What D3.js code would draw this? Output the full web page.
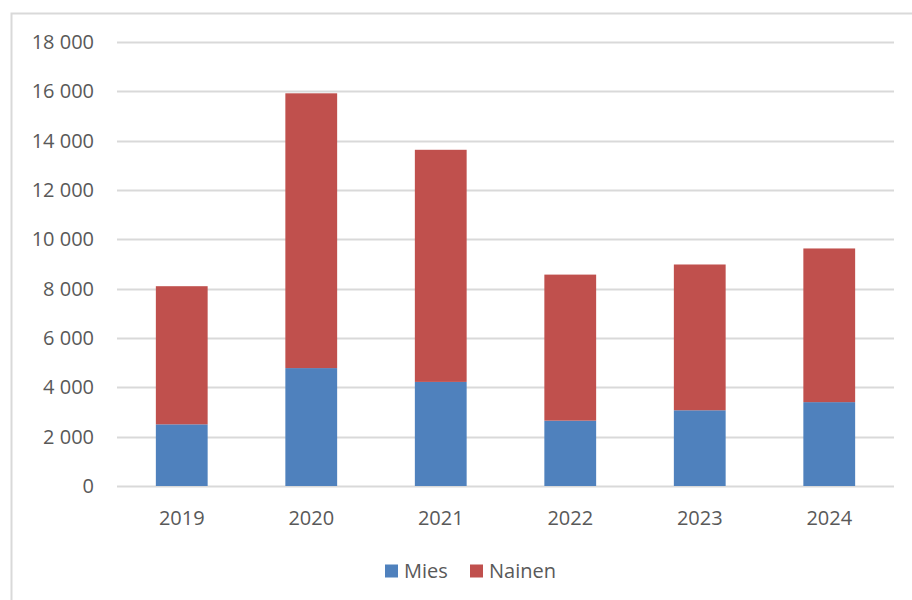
<!DOCTYPE html>
<html>
<head>
<meta charset="utf-8">
<script src="https://cdn.jsdelivr.net/npm/d3@7"></script>
<style>
    body { margin: 0; background: #fff; }
    text { font-family: "Open Sans", sans-serif; fill: #595959; }
</style>
</head>
<body>
<div id="chart"></div>
<script>
let years = ["2019", "2020", "2021", "2022", "2023", "2024"];
let mies = [2500, 4780, 4220, 2650, 3070, 3400];
let nainen = [5600, 11140, 9410, 5920, 5910, 6230];
let seriesNames = ["Mies", "Nainen"];
let seriesColors = ["#4f81bd", "#c0504d"];
let yTicks = [0, 2000, 4000, 6000, 8000, 10000, 12000, 14000, 16000, 18000];

let width = 912
let height = 600

let rows = years.map((y, i) => ({year: y, Mies: mies[i], Nainen: nainen[i]}));

let svg = d3.select("#chart").append("svg")
    .attr("width", width)
    .attr("height", height);

// chart frame (runs off the right and bottom edges like the reference)
svg.append("rect")
    .attr("x", 11.5)
    .attr("y", 13.5)
    .attr("width", 920)
    .attr("height", 620)
    .attr("fill", "none")
    .attr("stroke", "#d9d9d9")
    .attr("stroke-width", 2);

let x = d3.scaleBand()
    .domain(years)
    .range([117, 894])
    .paddingInner(0.6)
    .paddingOuter(0.3);

let y = d3.scaleLinear()
    .domain([0, 18000])
    .range([486, 42]);

let fmt = d3.formatLocale({decimal: ",", thousands: " ", grouping: [3], currency: ["", " €"]}).format(",");

// gridlines
svg.append("g")
    .selectAll("line")
    .data(yTicks)
    .enter().append("line")
    .attr("x1", 117)
    .attr("x2", 894)
    .attr("y1", d => Math.round(y(d)) + 0.5)
    .attr("y2", d => Math.round(y(d)) + 0.5)
    .attr("stroke", "#d9d9d9")
    .attr("stroke-width", 2);

// y labels
svg.append("g")
    .selectAll("text")
    .data(yTicks)
    .enter().append("text")
    .attr("x", 94)
    .attr("y", d => y(d))
    .attr("dy", "0.35em")
    .attr("text-anchor", "end")
    .style("font-size", "20px")
    .text(d => fmt(d));

// stacked bars
let stack = d3.stack().keys(seriesNames);
let layers = stack(rows);

svg.append("g")
    .selectAll("g")
    .data(layers)
    .enter().append("g")
    .attr("fill", (d, i) => seriesColors[i])
    .selectAll("rect")
    .data(d => d)
    .enter().append("rect")
    .attr("x", d => x(d.data.year))
    .attr("width", x.bandwidth())
    .attr("y", d => y(d[1]))
    .attr("height", d => y(d[0]) - y(d[1]));

// x labels
svg.append("g")
    .selectAll("text")
    .data(years)
    .enter().append("text")
    .attr("x", d => x(d) + x.bandwidth() / 2)
    .attr("y", 518)
    .attr("dy", "0.35em")
    .attr("text-anchor", "middle")
    .style("font-size", "20px")
    .text(d => d);

// legend
let legendX = [385, 470];
let legend = svg.append("g")
    .selectAll("g")
    .data(seriesNames)
    .enter().append("g")
    .attr("transform", (d, i) => "translate(" + legendX[i] + ",571)");

legend.append("rect")
    .attr("x", 0)
    .attr("y", -6.5)
    .attr("width", 13)
    .attr("height", 13)
    .attr("fill", (d, i) => seriesColors[i]);

legend.append("text")
    .attr("x", 19)
    .attr("y", 0)
    .attr("dy", "0.35em")
    .style("font-size", "20px")
    .text(d => d);
</script>
</body>
</html>
